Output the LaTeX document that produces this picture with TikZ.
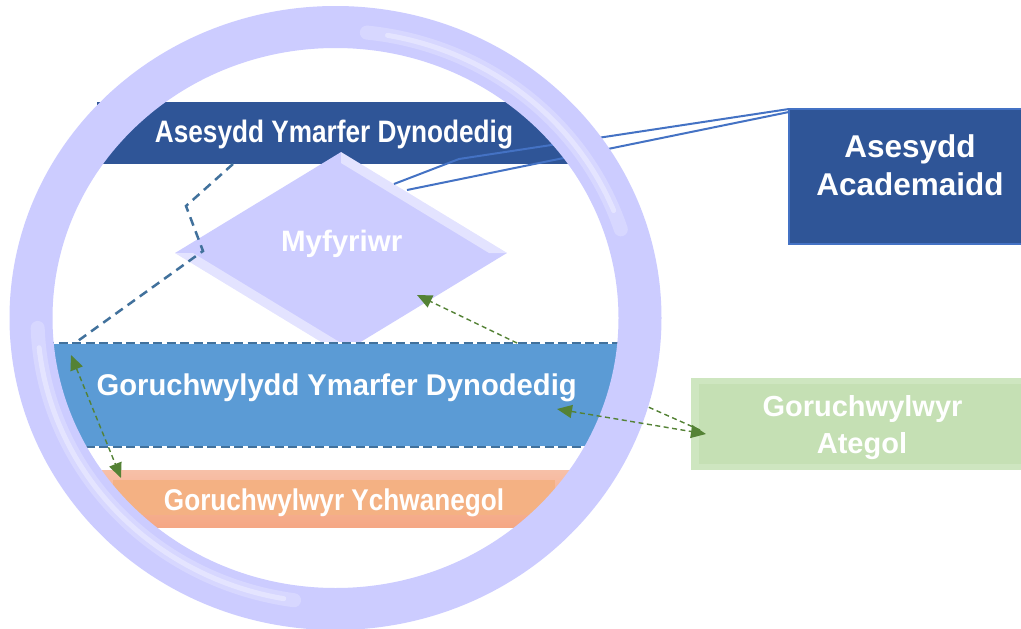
\documentclass[tikz,border=0pt]{standalone}
\usepackage{fontspec}
\setmainfont{Liberation Sans}
\usepackage{graphicx}
\usetikzlibrary{shapes.geometric,arrows.meta}
\definecolor{ringc}{HTML}{CCCCFF}
\definecolor{dblue}{HTML}{2F5597}
\definecolor{mblue}{HTML}{5B9BD5}
\definecolor{dashc}{HTML}{41719C}
\definecolor{lblue}{HTML}{4472C4}
\definecolor{gbox}{HTML}{C5E0B4}
\definecolor{gboxl}{HTML}{CEE6C0}
\definecolor{garrow}{HTML}{548235}
\definecolor{orin}{HTML}{F4B183}
\definecolor{ortop}{HTML}{F7C0A8}
\definecolor{orbot}{HTML}{F5A784}
\begin{document}
\begin{tikzpicture}[x=1pt,y=-1pt,
  boxnode/.style={inner sep=0pt,outer sep=0pt,anchor=north west},
  lbl/.style={text=white,font=\bfseries,inner sep=0pt,outer sep=0pt,anchor=base},
  gline/.style={draw=garrow,line width=1.4pt,dash pattern=on 5pt off 3.5pt},
  ghead/.style={-{Triangle[length=15pt,width=13pt]}},
  gboth/.style={{Triangle[length=15pt,width=13pt]}-{Triangle[length=15pt,width=13pt]}},
  bline/.style={draw=lblue,line width=2pt,line join=round},
  dline/.style={draw=dashc,line width=2.5pt,dash pattern=on 9pt off 6pt},
  glow/.style={draw=white,line cap=round},
]
\useasboundingbox (0,0) rectangle (1021,629);
\fill[white] (0,0) rectangle (1021,629);
\clip (0,0) rectangle (1021,629);

% dark blue bar
\node[boxnode,fill=dblue,minimum width=473pt,minimum height=62pt] (adbar) at (97,102) {};
% diamond
\node[shape=diamond,fill=ringc,inner sep=0pt,minimum width=332pt,minimum height=202pt,aspect=1.64] (dm) at (341,253) {};
\fill[white,opacity=0.45] (341,152) -- (507,253) -- (489,253) -- (341,163) -- cycle;
\fill[white,opacity=0.45] (341,354) -- (175,253) -- (193,253) -- (341,343) -- cycle;
% medium blue bar
\node[boxnode,fill=mblue,minimum width=580pt,minimum height=104pt] (gbar) at (45,343) {};
\draw[white,line width=2.5pt] (gbar.north west) -- (gbar.north east);
\draw[dline,dash pattern=on 9pt off 4.5pt] (gbar.north west) -- (gbar.north east);
\draw[white,line width=2.5pt] (gbar.south west) -- (gbar.south east);
\draw[dline,dash pattern=on 9pt off 4.5pt] (gbar.south west) -- (gbar.south east);
% orange bar
\node[boxnode,top color=ortop,bottom color=orbot,minimum width=476pt,minimum height=57pt] (obar) at (97,470) {};
\node[boxnode,fill=orin,minimum width=442pt,minimum height=35pt] (obin) at (113,480) {};

% texts inside ring
\node[lbl] (t1) at (334,142.7) {\fontsize{31}{37}\selectfont\scalebox{0.845}[1]{Asesydd Ymarfer Dynodedig}};
\node[lbl] (t2) at (341.7,251.7) {\fontsize{29.5}{35}\selectfont Myfyriwr};
\node[lbl] (t3) at (336.7,395) {\fontsize{30}{36}\selectfont\scalebox{0.973}[1]{Goruchwylydd Ymarfer Dynodedig}};
\node[lbl] (t4) at (334,510) {\fontsize{30}{36}\selectfont\scalebox{0.872}[1]{Goruchwylwyr Ychwanegol}};

% right boxes
\node[boxnode,fill=dblue,draw=lblue,line width=2pt,minimum width=250pt,minimum height=135pt] (aa) at (789,109) {};
\node[lbl] (t5) at (910,157.3) {\fontsize{31.5}{38}\selectfont Asesydd};
\node[lbl] (t6) at (910,195.7) {\fontsize{31.5}{38}\selectfont Academaidd};
\node[boxnode,fill=gboxl,minimum width=340pt,minimum height=92pt] (gb) at (691,378) {};
\node[boxnode,fill=gbox,minimum width=330pt,minimum height=80pt] (gbin) at (699,384) {};
\node[lbl] (t7) at (862.5,416.7) {\fontsize{29}{35}\selectfont Goruchwylwyr};
\node[lbl] (t8) at (862,453) {\fontsize{29}{35}\selectfont Ategol};

% connector coordinates
\coordinate (bend) at (459,159);
\coordinate (dmA) at (394,184);
\coordinate (dmB) at (407,190);
\coordinate (dd0) at (233,164);
\coordinate (dd1) at (186,206);
\coordinate (dd2) at (203,251);
\coordinate (dd3) at (75,343);
\coordinate (g1a) at (517,343);
\coordinate (g1b) at (417,295);
\coordinate (g2a) at (71,355);
\coordinate (g2b) at (121,478);
\coordinate (g3a) at (557,409);
\coordinate (g3b) at (706,434);
\coordinate (g4a) at (610,390);
\coordinate (g4b) at (700,430);

% blue lines from academic assessor
\draw[bline] (aa.north west) -- (bend) -- (dmA);
\draw[bline] ([yshift=-3pt]aa.north west) -- (dmB);
% dashed dark line
\draw[dline] (dd0) -- (dd1) -- (dd2) -- (dd3);
% hidden-start green line
\draw[gline] (g4a) -- (g4b);
% green arrows inside
\draw[gline,ghead] (g1a) -- (g1b);
\draw[gline,gboth] (g2a) -- (g2b);

% ring
\coordinate (rc) at (335.5,318);
\fill[ringc,even odd rule] (rc) ellipse [x radius=326, y radius=312] (rc) ellipse [x radius=283, y radius=270];
\draw[glow,opacity=0.22,line width=14pt] ([shift={(98:298 and 285)}]rc) arc[start angle=98,end angle=178,x radius=298,y radius=285];
\draw[glow,opacity=0.35,line width=5pt] ([shift={(100:298 and 285)}]rc) arc[start angle=100,end angle=174,x radius=298,y radius=285];
\draw[glow,opacity=0.22,line width=14pt] ([shift={(-84:300 and 287)}]rc) arc[start angle=-84,end angle=-18,x radius=300,y radius=287];
\draw[glow,opacity=0.35,line width=5pt] ([shift={(-80:300 and 287)}]rc) arc[start angle=-80,end angle=-22,x radius=300,y radius=287];

% green arrow crossing ring
\draw[gline,gboth] (g3a) -- (g3b);
\end{tikzpicture}
\end{document}
